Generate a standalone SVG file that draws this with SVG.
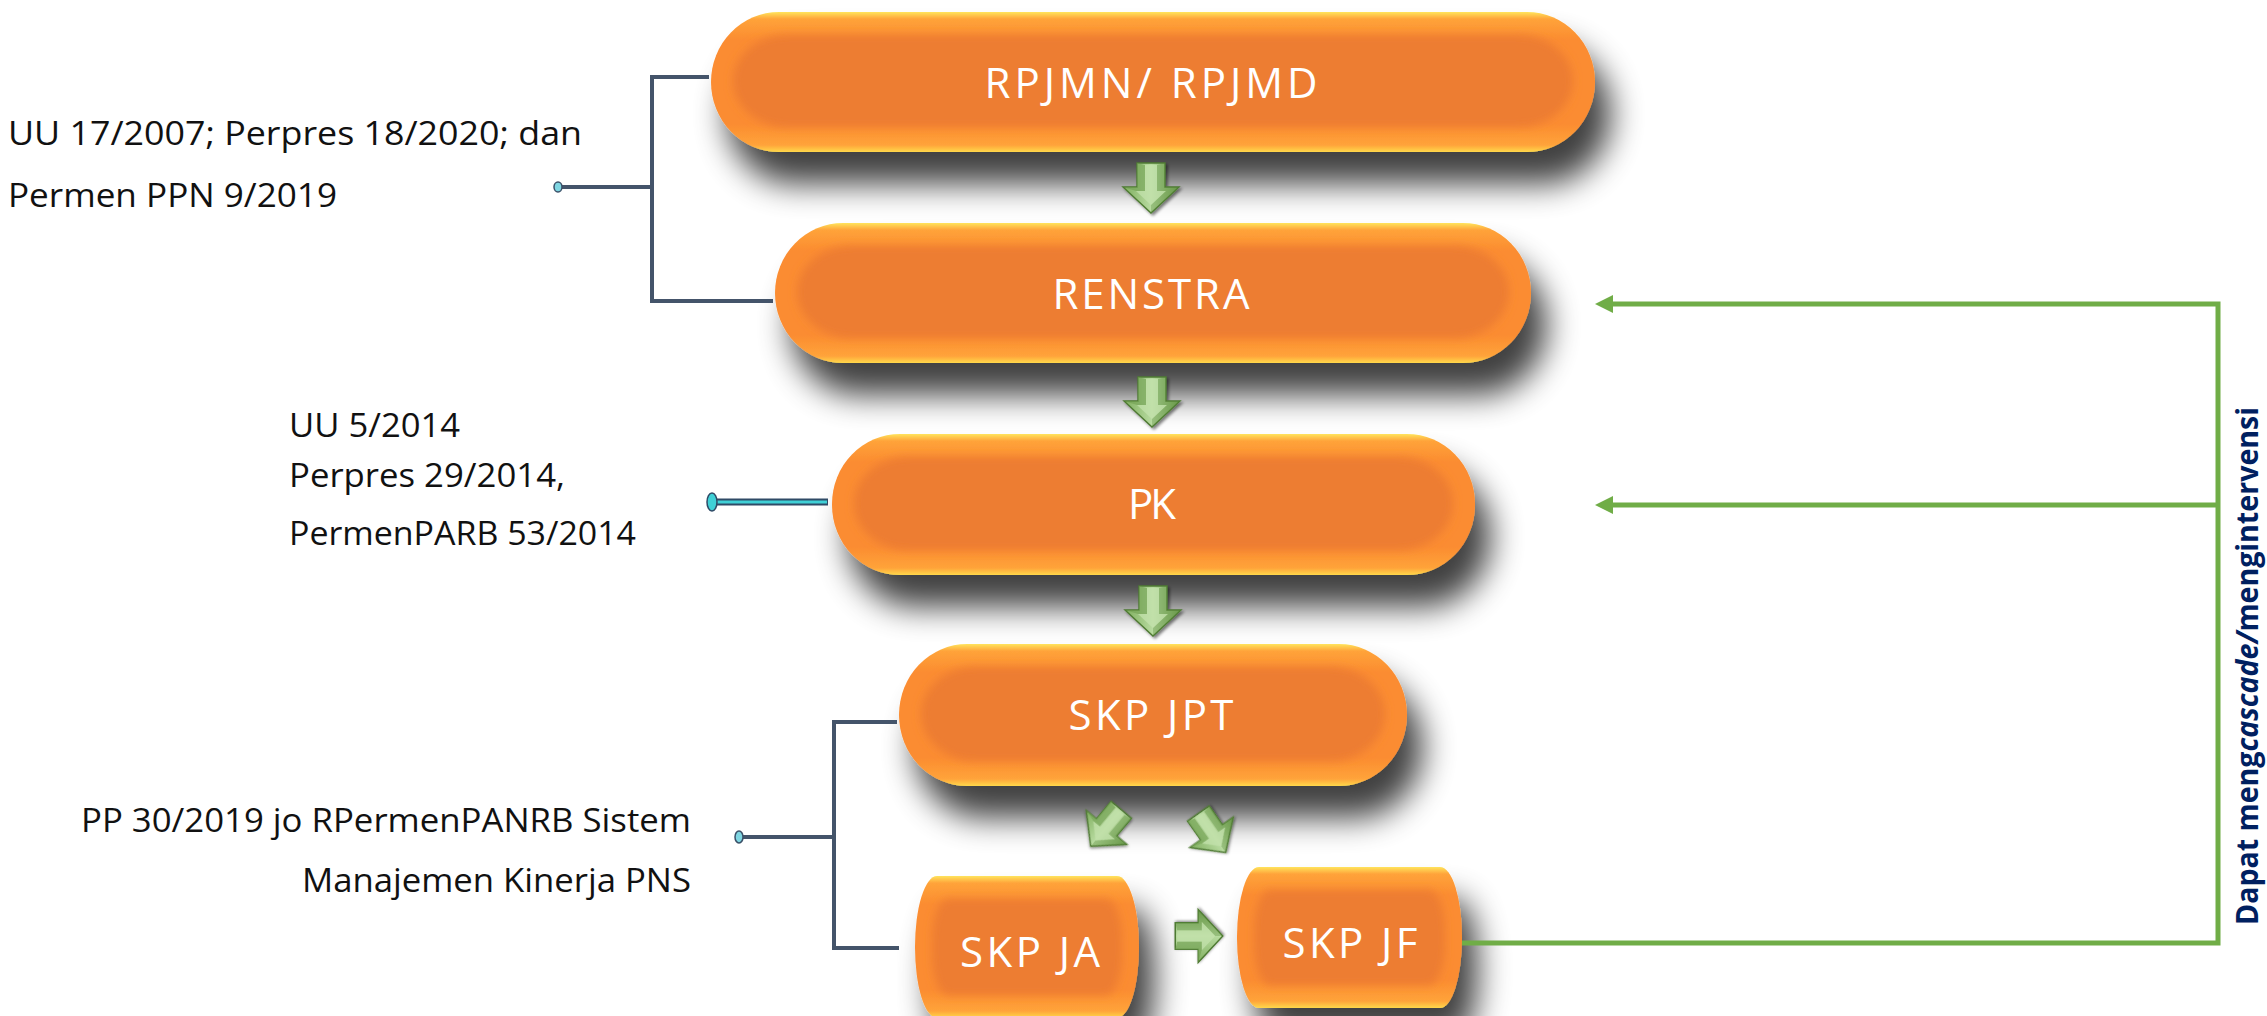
<svg xmlns="http://www.w3.org/2000/svg" xmlns:xlink="http://www.w3.org/1999/xlink" width="2267" height="1016" viewBox="0 0 2267 1016">
<defs>
<style>
.outer{fill:url(#og)}
.inner{fill:#ED7D31;filter:url(#soft)}
.lbl{font-family:"Open Sans","Liberation Sans",sans-serif;font-size:42px;fill:#FFFFFF;text-anchor:middle}
.note{font-family:"Open Sans","Liberation Sans",sans-serif;font-size:32px;fill:#111111}
.brk{fill:none;stroke:#44546A;stroke-width:4}
.dot{fill:#7FD6E2;stroke:#3A5068;stroke-width:1.5}
.grn{fill:none;stroke:#70AD47;stroke-width:5}
.vt{font-family:"Open Sans","Liberation Sans",sans-serif;font-size:31px;font-weight:bold;fill:#002060}
</style>
<linearGradient id="og" x1="0" y1="0" x2="0" y2="1">
<stop offset="0" stop-color="#FFE45C"/>
<stop offset="0.05" stop-color="#FFA33A"/>
<stop offset="0.2" stop-color="#FB8C30"/>
<stop offset="0.8" stop-color="#FB8C30"/>
<stop offset="0.95" stop-color="#FFA33A"/>
<stop offset="1" stop-color="#FFD84A"/>
</linearGradient>
<linearGradient id="ag" x1="0" y1="0" x2="1" y2="0">
<stop offset="0" stop-color="#7FAE5E"/>
<stop offset="0.5" stop-color="#B8DBA0"/>
<stop offset="1" stop-color="#6E9E4E"/>
</linearGradient>
<filter id="sh" x="-15%" y="-40%" width="140%" height="220%">
<feGaussianBlur in="SourceAlpha" stdDeviation="16"/>
<feOffset dx="16" dy="32" result="b"/>
<feComponentTransfer><feFuncA type="linear" slope="0.75"/></feComponentTransfer>
<feMerge><feMergeNode/><feMergeNode in="SourceGraphic"/></feMerge>
</filter>
<filter id="soft" x="-10%" y="-20%" width="120%" height="140%"><feGaussianBlur stdDeviation="4"/></filter>
<filter id="ash" x="-50%" y="-50%" width="200%" height="200%">
<feGaussianBlur in="SourceAlpha" stdDeviation="1.5"/><feOffset dx="1.5" dy="1.5"/>
<feComponentTransfer><feFuncA type="linear" slope="0.5"/></feComponentTransfer>
<feMerge><feMergeNode/><feMergeNode in="SourceGraphic"/></feMerge>
</filter>
<g id="arr" filter="url(#ash)">
<path d="M-14,-25 L14,-25 L14,-1 L28,-1 L0,25 L-28,-1 L-14,-1 Z" fill="url(#ag)" stroke="#4E7A32" stroke-width="1.4"/>
<path d="M-6,-23 L6,-23 L6,3 L15,3 L0,17 L-15,3 L-6,3 Z" fill="#C4E3AE" opacity="0.7"/>
<path d="M-14,-25 L-6,-23 L-6,3 L-15,3 L-28,-1 L-14,-1 Z" fill="#6F9F50" opacity="0.6"/>
<path d="M6,-23 L14,-25 L14,-1 L28,-1 L0,25 L0,17 L15,3 L6,3 Z" fill="#5E8E40" opacity="0.35"/>
</g>
<marker id="gah" markerWidth="18" markerHeight="18" viewBox="0 0 18 18" refX="0" refY="9" orient="auto" markerUnits="userSpaceOnUse">
<path d="M0,0 L18,9 L0,18 Z" fill="#70AD47"/>
</marker>
</defs>
<rect width="2267" height="1016" fill="#FFFFFF"/>

<g id="n-rpjmn">
<rect class="outer" x="711" y="12" width="884" height="140" rx="68" ry="70" filter="url(#sh)"/>
<rect class="inner" x="733" y="35" width="840" height="92" rx="54" ry="46"/>
<text class="lbl" x="1151" y="98" textLength="333" lengthAdjust="spacing">RPJMN/ RPJMD</text>
</g>
<g id="n-renstra">
<rect class="outer" x="775" y="223" width="756" height="140" rx="68" ry="70" filter="url(#sh)"/>
<rect class="inner" x="797" y="246" width="712" height="92" rx="54" ry="46"/>
<text class="lbl" x="1151" y="309" textLength="197" lengthAdjust="spacing">RENSTRA</text>
</g>
<g id="n-pk">
<rect class="outer" x="832" y="434" width="643" height="141" rx="68" ry="70" filter="url(#sh)"/>
<rect class="inner" x="854" y="457" width="599" height="93" rx="54" ry="46"/>
<text class="lbl" x="1152" y="519" textLength="48" lengthAdjust="spacing">PK</text>
</g>
<g id="n-skpjpt">
<rect class="outer" x="899" y="644" width="508" height="142" rx="68" ry="71" filter="url(#sh)"/>
<rect class="inner" x="921" y="667" width="464" height="94" rx="54" ry="47"/>
<text class="lbl" x="1151" y="730" textLength="165" lengthAdjust="spacing">SKP JPT</text>
</g>
<g id="n-skpja">
<rect class="outer" x="915" y="876" width="224" height="142" rx="22" ry="71" filter="url(#sh)"/>
<rect class="inner" x="932" y="899" width="190" height="96" rx="16" ry="40"/>
<text class="lbl" x="1030" y="967" textLength="140" lengthAdjust="spacing">SKP JA</text>
</g>
<g id="n-skpjf">
<rect class="outer" x="1237" y="867" width="225" height="141" rx="22" ry="70" filter="url(#sh)"/>
<rect class="inner" x="1254" y="890" width="191" height="95" rx="16" ry="40"/>
<text class="lbl" x="1350" y="958" textLength="135" lengthAdjust="spacing">SKP JF</text>
</g>

<g id="connectors">
<path class="brk" d="M709,77 H652 V301 H773"/>
<path class="brk" d="M560,187 H652"/>
<ellipse class="dot" cx="558" cy="187" rx="4" ry="5"/>
<path d="M714,502 H828" stroke="#2F4A66" stroke-width="7" fill="none"/>
<path d="M714,502 H827" stroke="#3FD0D6" stroke-width="3" fill="none"/>
<ellipse cx="712" cy="502" rx="5" ry="9" fill="#3FD0D6" stroke="#2F4A66" stroke-width="1.5"/>
<path class="brk" d="M897,722 H834 V948 H899"/>
<path class="brk" d="M741,837 H834"/>
<ellipse class="dot" cx="739" cy="837" rx="4" ry="6"/>
<path class="grn" d="M1462,943 H2218 V304 H1613" marker-end="url(#gah)"/>
<path class="grn" d="M2218,505 H1613" marker-end="url(#gah)"/>
<use xlink:href="#arr" transform="translate(1151,188)"/>
<use xlink:href="#arr" transform="translate(1152,402)"/>
<use xlink:href="#arr" transform="translate(1153,611)"/>
<use xlink:href="#arr" transform="translate(1106,828) rotate(40) scale(0.95)"/>
<use xlink:href="#arr" transform="translate(1212,833) rotate(-35) scale(0.95)"/>
<use xlink:href="#arr" transform="translate(1199,936) rotate(-90) scale(0.95)"/>
</g>

<g id="notes">
<text class="note" x="8" y="145" textLength="574" lengthAdjust="spacingAndGlyphs">UU 17/2007; Perpres 18/2020; dan</text>
<text class="note" x="8" y="207" textLength="329" lengthAdjust="spacingAndGlyphs">Permen PPN 9/2019</text>
<text class="note" x="289" y="437" textLength="171" lengthAdjust="spacingAndGlyphs">UU 5/2014</text>
<text class="note" x="289" y="487" textLength="276" lengthAdjust="spacingAndGlyphs">Perpres 29/2014,</text>
<text class="note" x="289" y="545" textLength="347" lengthAdjust="spacingAndGlyphs">PermenPARB 53/2014</text>
<text class="note" x="81" y="832" textLength="610" lengthAdjust="spacingAndGlyphs">PP 30/2019 jo RPermenPANRB Sistem</text>
<text class="note" x="302" y="892" textLength="389" lengthAdjust="spacingAndGlyphs">Manajemen Kinerja PNS</text>
<text class="vt" transform="translate(2258,925) rotate(-90)" textLength="518" lengthAdjust="spacingAndGlyphs">Dapat meng<tspan font-style="italic">cascade/</tspan>mengintervensi</text>
</g>
</svg>
